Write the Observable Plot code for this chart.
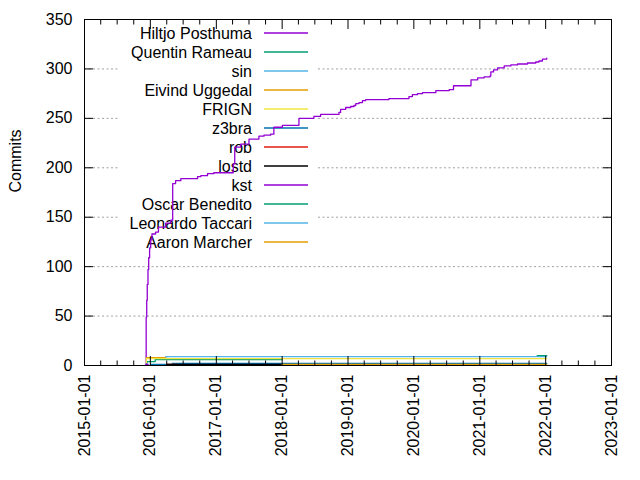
<!DOCTYPE html>
<html>
<head>
<meta charset="utf-8">
<script src="https://cdn.jsdelivr.net/npm/d3@7"></script>
<script src="https://cdn.jsdelivr.net/npm/@observablehq/plot@0.6"></script>
<style>
  html, body { margin: 0; padding: 0; background: #fff; }
  #chart svg { display: block; font-family: "Liberation Sans", Arial, sans-serif; }
</style>
</head>
<body>
<div id="chart"></div>
<script>
// ---------- DATA ----------
const authors = ["Hiltjo Posthuma", "Quentin Rameau", "sin", "Eivind Uggedal", "FRIGN", "z3bra",
                 "rob", "lostd", "kst", "Oscar Benedito", "Leonardo Taccari", "Aaron Marcher"];

const hiltjo = [
  ["2015-12-07", 1], ["2015-12-09", 49], ["2015-12-12", 66], ["2015-12-15", 82],
  ["2015-12-19", 97], ["2015-12-23", 109], ["2015-12-28", 119], ["2016-01-03", 127],
  ["2016-01-10", 133],
  ["2016-01-30", 135], ["2016-02-15", 140], ["2016-03-26", 144], ["2016-04-23", 147],
  ["2016-05-04", 184], ["2016-05-20", 187], ["2016-06-18", 189], ["2016-09-19", 191],
  ["2016-10-07", 192], ["2016-11-13", 194], ["2016-12-18", 195], ["2017-04-05", 204],
  ["2017-04-13", 221], ["2017-05-16", 224], ["2017-07-01", 229], ["2017-08-25", 232],
  ["2017-09-22", 233], ["2017-10-29", 234], ["2017-11-16", 241], ["2018-01-02", 243],
  ["2018-04-04", 250], ["2018-06-26", 252], ["2018-08-02", 254], ["2018-11-12", 256],
  ["2018-11-21", 259], ["2018-12-19", 261], ["2019-01-16", 262], ["2019-02-03", 263],
  ["2019-02-13", 265], ["2019-03-03", 266], ["2019-03-22", 268], ["2019-04-09", 269],
  ["2019-08-16", 270], ["2019-12-05", 272], ["2019-12-24", 274], ["2020-01-21", 275],
  ["2020-02-18", 276], ["2020-05-02", 278], ["2020-07-15", 279], ["2020-08-08", 283],
  ["2020-11-13", 289], ["2020-12-20", 291], ["2021-01-25", 292], ["2021-02-27", 293],
  ["2021-03-03", 297], ["2021-03-18", 299], ["2021-04-09", 301], ["2021-05-16", 303],
  ["2021-06-22", 304], ["2021-07-29", 305], ["2021-09-22", 306], ["2021-11-07", 307],
  ["2021-11-25", 308], ["2021-12-14", 310], ["2022-01-07", 311]
];
const quentin  = [["2015-12-10", 1], ["2015-12-13", 4], ["2016-01-28", 6], ["2017-12-31", 6]];
const sin      = [["2016-03-26", 9], ["2022-01-07", 9]];
const eivind   = [["2015-12-09", 8], ["2016-03-26", 8]];
const frign    = [["2015-12-08", 3], ["2015-12-10", 7], ["2022-01-07", 7]];
const z3bra    = [["2016-01-02", 1], ["2016-05-01", 2], ["2022-01-07", 2]];
const rob      = [["2016-04-01", 1], ["2016-06-01", 1]];
const lostd    = [["2016-04-01", 1], ["2017-12-31", 1]];
const kst      = [["2015-12-08", 1], ["2015-12-20", 1]];
const oscar    = [["2021-11-15", 10], ["2022-01-07", 10]];
const leonardo = [["2016-03-26", 9], ["2016-04-10", 9]];
const aaron    = [["2017-12-31", 1], ["2022-01-07", 1]];

const seriesValues = [hiltjo, quentin, sin, eivind, frign, z3bra, rob, lostd, kst, oscar, leonardo, aaron];

const yTicks = [0, 50, 100, 150, 200, 250, 300, 350];
const xTickLabels = ["2015-01-01", "2016-01-01", "2017-01-01", "2018-01-01", "2019-01-01",
                     "2020-01-01", "2021-01-01", "2022-01-01", "2023-01-01"];

// ---------- STYLE ----------
const palette = ["#9400d3", "#009e73", "#56b4e9", "#e69f00", "#f0e442", "#0072b2", "#e51e10", "#000000",
                 "#9400d3", "#009e73", "#56b4e9", "#e69f00"];
const FONT = 16;

const parse = d3.utcParse("%Y-%m-%d");
const xTicks = xTickLabels.map(parse);
const minorTicks = [];
for (let i = 0; i < xTicks.length - 1; i++) {
  for (let q = 1; q < 4; q++) minorTicks.push(d3.utcMonth.offset(xTicks[i], 3 * q));
}

const tables = seriesValues.map((s, i) => s.map(([d, v]) => ({date: parse(d), commits: v, author: authors[i]})));

// legend drawn inside the plot (above grid, below data lines)
function keyMark(index, scales, values, dim) {
  const g = d3.create("svg:g");
  const textRight = 252, lineX1 = 264, lineX2 = 308, y0 = 33, step = 19;
  g.append("rect").attr("x", 118).attr("y", 23).attr("width", 200)
    .attr("height", step * authors.length + 4).attr("fill", "white");
  authors.forEach((a, i) => {
    const y = y0 + step * i;
    g.append("text").attr("x", textRight).attr("y", y).attr("dy", "0.35em")
      .attr("text-anchor", "end").attr("font-size", FONT).attr("fill", "black").text(a);
    g.append("line").attr("x1", lineX1).attr("x2", lineX2).attr("y1", y).attr("y2", y)
      .attr("stroke", palette[i]).attr("stroke-width", 1.3);
  });
  return g.node();
}

const fmt = d3.utcFormat("%Y-%m-%d");

const chart = Plot.plot({
  width: 640,
  height: 480,
  marginLeft: 84,
  marginRight: 29,
  marginTop: 19,
  marginBottom: 115,
  style: {fontFamily: "'Liberation Sans', Arial, sans-serif", fontSize: FONT + "px", color: "black", background: "white"},
  x: {type: "utc", domain: [xTicks[0], xTicks[xTicks.length - 1]]},
  y: {domain: [0, 350]},
  marks: [
    Plot.ruleY(yTicks.filter(v => v > 0 && v < 350), {stroke: "#a0a0a0", strokeWidth: 1, strokeDasharray: "2,2.5"}),
    keyMark,
    ...tables.map((t, i) => Plot.line(t, {x: "date", y: "commits", curve: "step-after", stroke: palette[i], strokeWidth: 1.3})),
    Plot.frame({stroke: "black", strokeWidth: 1}),
    // y axis ticks (inward) and labels
    Plot.axisY({ticks: yTicks, tickSize: -9, tickFormat: () => "", label: null}),
    Plot.axisY({anchor: "right", ticks: yTicks, tickSize: -9, tickFormat: () => "", label: null}),
    Plot.axisY({ticks: yTicks, tickSize: 0, tickPadding: 12, label: null, fontSize: FONT}),
    // x axis ticks (inward) bottom & top, minor
    Plot.axisX({ticks: xTicks, tickSize: -9, tickFormat: () => "", label: null}),
    Plot.axisX({anchor: "top", ticks: xTicks, tickSize: -9, tickFormat: () => "", label: null}),
    Plot.axisX({ticks: minorTicks, tickSize: -4.5, tickFormat: () => "", label: null}),
    Plot.axisX({anchor: "top", ticks: minorTicks, tickSize: -4.5, tickFormat: () => "", label: null}),
    Plot.axisX({ticks: xTicks, tickSize: 0, tickPadding: 9, tickRotate: -90, tickFormat: fmt, label: null, fontSize: FONT}),
    // y label
    Plot.text(["Commits"], {frameAnchor: "left", dx: -69, rotate: -90, fontSize: FONT, fill: "black"})
  ]
});
document.getElementById("chart").appendChild(chart);
</script>
</body>
</html>
